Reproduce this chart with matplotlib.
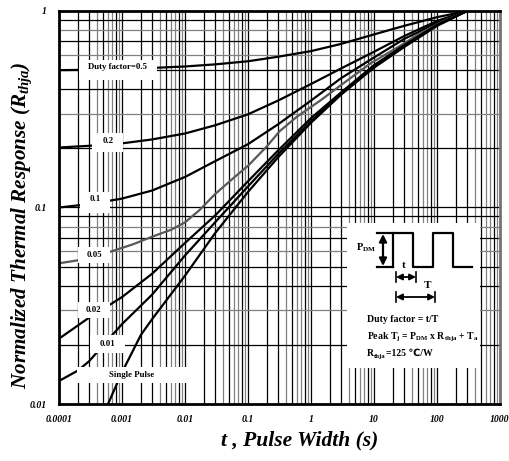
import matplotlib
matplotlib.use('Agg')
import matplotlib.pyplot as plt
from matplotlib.ticker import NullFormatter
from matplotlib.patches import Rectangle

plt.rcParams['font.family'] = ['Liberation Serif', 'DejaVu Serif']
plt.rcParams['font.weight'] = 'bold'
plt.rcParams['mathtext.fontset'] = 'custom'
plt.rcParams['mathtext.rm'] = 'Liberation Serif:bold'
plt.rcParams['mathtext.it'] = 'Liberation Serif:bold:italic'
plt.rcParams['mathtext.bf'] = 'Liberation Serif:bold'

# courbes (t en s, réponse normalisée)
d05_t = [1e-4, 3e-4, 1e-3, 3e-3, 1e-2, 3e-2, 0.1, 0.3, 1, 3, 10, 30, 100, 300]
d05_v = [0.50, 0.502, 0.506, 0.513, 0.522, 0.535, 0.555, 0.585, 0.625, 0.68, 0.76, 0.84, 0.93, 1.0]

d02_t = [1e-4, 3e-4, 1e-3, 3e-3, 1e-2, 3e-2, 0.1, 0.3, 1, 3, 10, 30, 100, 300]
d02_v = [0.202, 0.206, 0.212, 0.222, 0.238, 0.262, 0.298, 0.35, 0.425, 0.51, 0.62, 0.745, 0.89, 1.0]

d01_t = [1e-4, 3e-4, 1e-3, 3e-3, 1e-2, 3e-2, 0.1, 0.3, 1, 3, 10, 30, 100, 300]
d01_v = [0.100, 0.104, 0.111, 0.122, 0.143, 0.172, 0.21, 0.265, 0.35, 0.455, 0.58, 0.72, 0.87, 1.0]

d005_t = [1e-4, 3e-4, 7e-4, 1.5e-3, 3e-3, 6e-3, 1e-2, 1.7e-2, 3e-2, 0.06, 0.1, 0.2, 0.32,
          0.6, 1.4, 3, 8.7, 25, 54, 120, 300]
d005_v = [0.052, 0.055, 0.060, 0.065, 0.071, 0.077, 0.084, 0.097, 0.117, 0.142, 0.163, 0.205,
          0.245, 0.29, 0.35, 0.42, 0.54, 0.66, 0.77, 0.88, 1.0]

d002_t = [1e-4, 3e-4, 1e-3, 3e-3, 1e-2, 3e-2, 0.1, 0.3, 1, 3, 10, 30, 100, 300]
d002_v = [0.0215, 0.0275, 0.035, 0.046, 0.066, 0.091, 0.136, 0.195, 0.285, 0.385, 0.53, 0.67, 0.85, 1.0]

d001_t = [1e-4, 2e-4, 3e-4, 1e-3, 3e-3, 1e-2, 3e-2, 0.1, 0.3, 1, 3, 10, 30, 100, 300]
d001_v = [0.0131, 0.0148, 0.0165, 0.0255, 0.036, 0.057, 0.084, 0.128, 0.187, 0.275, 0.38, 0.52,
          0.66, 0.845, 1.0]

single_t = [6e-4, 1e-3, 2e-3, 3e-3, 1e-2, 3e-2, 0.1, 0.3, 1, 3, 10, 30, 100, 300]
single_v = [0.010, 0.0145, 0.0225, 0.027, 0.045, 0.074, 0.12, 0.18, 0.27, 0.375, 0.515, 0.655, 0.84, 1.0]

xticks = [1e-4, 1e-3, 1e-2, 1e-1, 1, 10, 100, 1000]
xtick_labels = ['0.0001', '0.001', '0.01', '0.1', '1', '10', '100', '1000']
yticks = [0.01, 0.1, 1]
ytick_labels = ['0.01', '0.1', '1']

W, H = 509, 461
fig = plt.figure(figsize=(W / 100, H / 100), dpi=100)
ax = fig.add_axes([59 / W, 1 - 404 / H, 441 / W, 393 / H])
ax.set_xscale('log')
ax.set_yscale('log')
ax.set_xlim(1e-4, 1000)
ax.set_ylim(0.01, 1)

# grille (mélange noir / gris comme sur la fiche)
for d in range(-4, 3):
    for k in range(1, 10):
        c = 'k' if k in (1, 2, 3, 5, 8) else '0.5'
        ax.axvline(k * 10.0 ** d, color=c, lw=0.9, zorder=1)
for d in range(-2, 0):
    for k in range(1, 10):
        c = 'k' if k in (1, 2, 4, 5, 7, 9) else '0.5'
        ax.axhline(k * 10.0 ** d, color=c, lw=0.9, zorder=1)

ax.plot(d05_t, d05_v, color='k', lw=1.6, zorder=3)
ax.plot(d02_t, d02_v, color='k', lw=1.6, zorder=3)
ax.plot(d01_t, d01_v, color='k', lw=1.6, zorder=3)
ax.plot(d005_t, d005_v, color='0.35', lw=1.6, zorder=3)
ax.plot(d002_t, d002_v, color='k', lw=1.6, zorder=3)
ax.plot(d001_t, d001_v, color='k', lw=1.6, zorder=3)
ax.plot(single_t, single_v, color='k', lw=1.6, zorder=3)


def pbox(x0, x1, y0, y1):
    # rectangle blanc en pixels de l'image
    r = Rectangle((x0 / W, 1 - y1 / H), (x1 - x0) / W, (y1 - y0) / H,
                  transform=fig.transFigure, fc='white', ec='none', zorder=4)
    ax.add_patch(r)


def ptext(x, y, s, size=6.3, **kw):
    ax.text(x / W, 1 - y / H, s, transform=fig.transFigure, fontsize=size,
            fontweight='bold', zorder=6, **kw)


labels = [
    ((79, 157, 60, 80), (117, 67), 'Duty factor=0.5'),
    ((92, 123, 133, 152), (108, 141), '0.2'),
    ((80, 110, 192, 213), (95, 199), '0.1'),
    ((78, 110, 247, 263), (94, 255), '0.05'),
    ((78, 110, 302, 318), (93, 310), '0.02'),
    ((90, 125, 335, 353), (108, 344), '0.01'),
    ((77, 200, 367, 383), (132, 375), 'Single Pulse'),
]
for b, p, s in labels:
    pbox(*b)
    ptext(p[0], p[1], s, ha='center', va='center')

# encart
pbox(347, 480, 223, 368)


def pline(xs, ys, **kw):
    ax.plot([x / W for x in xs], [1 - y / H for y in ys], transform=fig.transFigure,
            clip_on=False, zorder=5, **kw)


pline([393, 393, 413, 413, 433, 433, 453, 453, 472],
      [267, 233, 233, 267, 267, 233, 233, 267, 267], color='k', lw=1.6)
pline([377, 393], [233, 233], color='k', lw=1.6)
pline([377, 393], [267, 267], color='k', lw=1.6)
ax.annotate('', xy=(383 / W, 1 - 234 / H), xytext=(383 / W, 1 - 266 / H),
            xycoords='figure fraction', textcoords='figure fraction',
            arrowprops=dict(arrowstyle='<|-|>', color='k', lw=1.6, mutation_scale=11,
                            shrinkA=0, shrinkB=0), zorder=5)
ax.annotate('', xy=(396 / W, 1 - 277 / H), xytext=(416 / W, 1 - 277 / H),
            xycoords='figure fraction', textcoords='figure fraction',
            arrowprops=dict(arrowstyle='<|-|>', color='k', lw=1.3, mutation_scale=9,
                            shrinkA=0, shrinkB=0), zorder=5)
ax.annotate('', xy=(396 / W, 1 - 297 / H), xytext=(435 / W, 1 - 297 / H),
            xycoords='figure fraction', textcoords='figure fraction',
            arrowprops=dict(arrowstyle='<|-|>', color='k', lw=1.3, mutation_scale=9,
                            shrinkA=0, shrinkB=0), zorder=5)
for x, y in [(396, 277), (416, 277), (396, 297), (435, 297)]:
    pline([x, x], [y - 5, y + 5], color='k', lw=1.2)

ptext(376, 248, r'P$_{\mathrm{DM}}$', size=7.5, ha='right', va='center')
ptext(404, 265, 't', size=8, ha='center', va='center')
ptext(428, 286, 'T', size=8, ha='center', va='center')
ptext(367, 320, 'Duty factor = t/T', size=7, ha='left', va='center')
ptext(367, 337, r'Peak T$_{\mathrm{j}}$ = P$_{\mathrm{DM}}$ x R$_{\mathrm{thja}}$ + T$_{\mathrm{a}}$',
      size=7, ha='left', va='center')

# ligne R_thja : morceaux posés côte à côte (le ℃ vient de DejaVu)
rend = fig.canvas.get_renderer()
xpos = 367
for s, fs, dy in [('R', 7, 0), ('thja', 4.9, 1.8), ('=125 ℃/W', 7, 0)]:
    t = fig.text(xpos / W, 1 - (356 + dy) / H, s, fontsize=fs, fontweight='bold',
                 va='baseline', ha='left', family=['Liberation Serif', 'DejaVu Sans'], zorder=8)
    xpos += t.get_window_extent(renderer=rend).width

ax.set_xticks(xticks)
ax.set_xticklabels(xtick_labels)
ax.set_yticks(yticks)
ax.set_yticklabels(ytick_labels)
ax.xaxis.set_minor_formatter(NullFormatter())
ax.yaxis.set_minor_formatter(NullFormatter())
ax.tick_params(which='both', length=0)
ax.tick_params(axis='x', pad=8)
ax.tick_params(axis='y', pad=9)
for lab in ax.get_xticklabels() + ax.get_yticklabels():
    lab.set_fontsize(7)
    lab.set_fontweight('bold')
    lab.set_fontstyle('italic')

for s in ax.spines.values():
    s.set_linewidth(2)
    s.set_zorder(7)
ax.spines['right'].set_color('0.45')

fig.text(300 / W, 1 - 440 / H, 't , Pulse Width (s)', ha='center', va='center',
         fontsize=15.5, fontweight='bold', fontstyle='italic')
fig.text(22 / W, 1 - 225 / H, r'Normalized Thermal Response (R$_{thja}$)', ha='center',
         va='center', rotation=90, fontsize=15.2, fontweight='bold', fontstyle='italic')

fig.savefig('out.png', dpi=100)
